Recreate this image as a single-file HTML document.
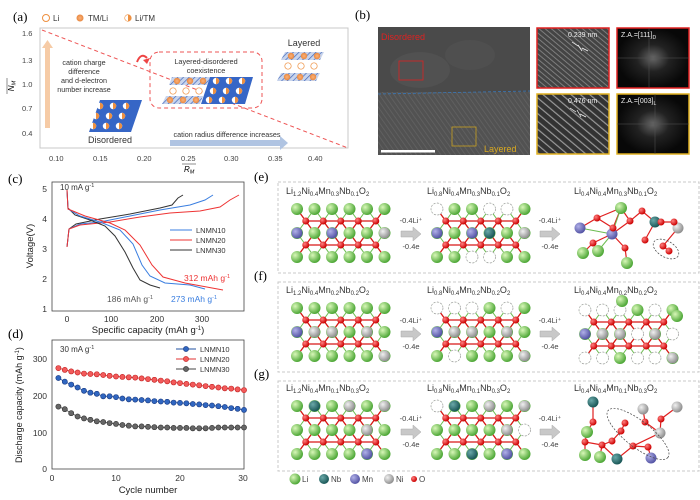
<!DOCTYPE html>
<html><head><meta charset="utf-8"><style>
html,body{margin:0;padding:0;background:#fff;}
svg{display:block;font-family:"Liberation Sans",sans-serif;}
</style></head><body>
<svg width="700" height="500" viewBox="0 0 700 500" xmlns="http://www.w3.org/2000/svg">
<defs>
<radialGradient id="gG" cx="35%" cy="35%" r="65%"><stop offset="0" stop-color="#d8f7b8"/><stop offset="1" stop-color="#4fa838"/></radialGradient>
<radialGradient id="gR" cx="35%" cy="35%" r="65%"><stop offset="0" stop-color="#ff8080"/><stop offset="1" stop-color="#cc0000"/></radialGradient>
<radialGradient id="gP" cx="35%" cy="35%" r="65%"><stop offset="0" stop-color="#b0b0e8"/><stop offset="1" stop-color="#5555a5"/></radialGradient>
<radialGradient id="gN" cx="35%" cy="35%" r="65%"><stop offset="0" stop-color="#f0f0f0"/><stop offset="1" stop-color="#909090"/></radialGradient>
<radialGradient id="gT" cx="35%" cy="35%" r="65%"><stop offset="0" stop-color="#6aa8a8"/><stop offset="1" stop-color="#1b5858"/></radialGradient>
<radialGradient id="oc" cx="50%" cy="50%" r="50%"><stop offset="0" stop-color="#fbb27a"/><stop offset="1" stop-color="#e88840"/></radialGradient>
<pattern id="hatch" width="4" height="4" patternUnits="userSpaceOnUse" patternTransform="rotate(45)"><rect width="4" height="4" fill="#c8d4ec"/><line x1="0" y1="0" x2="0" y2="4" stroke="#3a62b8" stroke-width="1.3"/></pattern>
<pattern id="stripes" width="4" height="4" patternUnits="userSpaceOnUse" patternTransform="rotate(-35)"><rect width="4" height="4" fill="#555"/><line x1="0" y1="0" x2="0" y2="4" stroke="#6e6e6e" stroke-width="1.5"/></pattern>
<pattern id="stripes2" width="4" height="4" patternUnits="userSpaceOnUse" patternTransform="rotate(-50)"><rect width="4" height="4" fill="#444"/><line x1="0" y1="0" x2="0" y2="4" stroke="#8a8a8a" stroke-width="1.6"/></pattern>
<pattern id="stripes3" width="6" height="6" patternUnits="userSpaceOnUse" patternTransform="rotate(-50)"><rect width="6" height="6" fill="#333"/><line x1="0" y1="0" x2="0" y2="6" stroke="#999" stroke-width="2.4"/></pattern>
<radialGradient id="fft"><stop offset="0" stop-color="#666"/><stop offset="0.45" stop-color="#222"/><stop offset="1" stop-color="#080808"/></radialGradient>
<g id="hc"><circle r="3.2" fill="#fff"/><path d="M0,-3.2A3.2,3.2 0 0 1 0,3.2Z" fill="#ee9040"/></g>
<marker id="mR" markerWidth="6" markerHeight="6" refX="3" refY="3" markerUnits="userSpaceOnUse"><circle cx="3" cy="3" r="2.6" fill="#f25a5a" stroke="#c02020" stroke-width="0.6"/></marker>
<marker id="mB" markerWidth="6" markerHeight="6" refX="3" refY="3" markerUnits="userSpaceOnUse"><circle cx="3" cy="3" r="2.6" fill="#3066c0" stroke="#1a3a80" stroke-width="0.6"/></marker>
<marker id="mK" markerWidth="6" markerHeight="6" refX="3" refY="3" markerUnits="userSpaceOnUse"><circle cx="3" cy="3" r="2.6" fill="#666" stroke="#333" stroke-width="0.6"/></marker>
<g id="lat">
 <path d="M0 0L17.5 24L35 0L52.5 24L70 0L87.5 24M0 24L17.5 0L35 24L52.5 0L70 24L87.5 0M0 24L17.5 48L35 24L52.5 48L70 24L87.5 48M0 48L17.5 24L35 48L52.5 24L70 48L87.5 24" stroke="#6cbc50" stroke-width="1" fill="none"/>
 <path d="M8.75 12L26.25 36L43.75 12L61.25 36L78.75 12M8.75 36L26.25 12L43.75 36L61.25 12L78.75 36M8.75 12H78.75M8.75 36H78.75M8.75 12L0 0M78.75 12L87.5 0M8.75 36L0 48M78.75 36L87.5 48" stroke="#d81818" stroke-width="1.3" fill="none"/>
 <g fill="url(#gG)">
 <circle cx="0" cy="0" r="6"/><circle cx="17.5" cy="0" r="6"/><circle cx="35" cy="0" r="6"/><circle cx="52.5" cy="0" r="6"/><circle cx="70" cy="0" r="6"/><circle cx="87.5" cy="0" r="6"/>
 <circle cx="0" cy="24" r="6"/><circle cx="17.5" cy="24" r="6"/><circle cx="35" cy="24" r="6"/><circle cx="52.5" cy="24" r="6"/><circle cx="70" cy="24" r="6"/><circle cx="87.5" cy="24" r="6"/>
 <circle cx="0" cy="48" r="6"/><circle cx="17.5" cy="48" r="6"/><circle cx="35" cy="48" r="6"/><circle cx="52.5" cy="48" r="6"/><circle cx="70" cy="48" r="6"/><circle cx="87.5" cy="48" r="6"/>
 </g>
 <g fill="url(#gR)">
 <circle cx="8.75" cy="12" r="3.5"/><circle cx="26.25" cy="12" r="3.5"/><circle cx="43.75" cy="12" r="3.5"/><circle cx="61.25" cy="12" r="3.5"/><circle cx="78.75" cy="12" r="3.5"/>
 <circle cx="8.75" cy="36" r="3.5"/><circle cx="26.25" cy="36" r="3.5"/><circle cx="43.75" cy="36" r="3.5"/><circle cx="61.25" cy="36" r="3.5"/><circle cx="78.75" cy="36" r="3.5"/>
 </g>
</g>
<g id="arr">
 <polygon points="0,-3 12,-3 12,-7 20,0 12,7 12,3 0,3" fill="#c8c8c8" stroke="#aaa" stroke-width="0.5"/>
 <text x="10" y="-11" font-size="7.5" fill="#444" text-anchor="middle">-0.4Li⁺</text>
 <text x="10" y="15" font-size="7.5" fill="#444" text-anchor="middle">-0.4e</text>
</g>
</defs>

<!-- (a) -->
<text x="13" y="21" font-size="13" font-family="Liberation Serif,serif">(a)</text>
<circle cx="46" cy="18" r="3.5" fill="#fff" stroke="#ee9040"/>
<text x="53" y="21" font-size="8" fill="#333">Li</text>
<circle cx="80" cy="18" r="3.5" fill="url(#oc)"/>
<text x="88" y="21" font-size="8" fill="#333">TM/Li</text>
<use href="#hc" x="128" y="18"/><circle cx="128" cy="18" r="3.3" fill="none" stroke="#ee9040" stroke-width="0.6"/>
<text x="135" y="21" font-size="8" fill="#333">Li/TM</text>

<rect x="40" y="28" width="308" height="120" fill="none" stroke="#c8c8c8" stroke-width="1"/>
<g font-size="7.5" fill="#444">
<text x="22" y="36">1.6</text><text x="22" y="63">1.3</text><text x="22" y="87">1.0</text><text x="22" y="111">0.7</text><text x="22" y="136">0.4</text>
<text x="49" y="161">0.10</text><text x="93" y="161">0.15</text><text x="137" y="161">0.20</text><text x="181" y="161">0.25</text><text x="224" y="161">0.30</text><text x="268" y="161">0.35</text><text x="308" y="161">0.40</text>
</g>
<text x="14" y="86" font-size="8" font-style="italic" transform="rotate(-90 14 86)" text-anchor="middle">N<tspan font-size="5.5" dy="1.5">M</tspan></text>
<line x1="7" y1="78" x2="7" y2="94" stroke="#444" stroke-width="0.6"/>
<text x="184" y="172" font-size="8" font-style="italic">R<tspan font-size="5.5" dy="1.5">M</tspan></text>
<line x1="182" y1="164" x2="196" y2="164" stroke="#444" stroke-width="0.6"/>
<line x1="42" y1="30" x2="348" y2="148" stroke="#ee5555" stroke-width="1" stroke-dasharray="4,3"/>
<rect x="45" y="46" width="5" height="82" fill="#f6cba6"/>
<polygon points="42,48 47.5,40 53,48" fill="#f6cba6"/>
<g font-size="7.2" fill="#333" text-anchor="middle">
<text x="84" y="65">cation charge</text><text x="84" y="74">difference</text><text x="84" y="83">and d-electron</text><text x="84" y="92">number increase</text>
</g>
<polygon points="100,100 142,100 131,132 89,132" fill="#3666c6"/>
<use href="#hc" x="100" y="106"/><use href="#hc" x="113" y="106"/><use href="#hc" x="126" y="106"/>
<use href="#hc" x="96" y="116"/><use href="#hc" x="109" y="116"/><use href="#hc" x="122" y="116"/>
<use href="#hc" x="93" y="126"/><use href="#hc" x="106" y="126"/><use href="#hc" x="119" y="126"/>
<text x="110" y="143" font-size="9" fill="#333" text-anchor="middle">Disordered</text>
<rect x="170" y="140" width="110" height="6" fill="#b0c4e2"/>
<polygon points="280,136 288,143 280,150" fill="#b0c4e2"/>
<text x="227" y="137" font-size="7.2" fill="#333" text-anchor="middle">cation radius difference increases</text>
<rect x="150" y="52" width="112" height="56" rx="9" fill="none" stroke="#ee5555" stroke-dasharray="4,3"/>
<path d="M137,62 Q141,52 147,58" stroke="#ee4444" stroke-width="2" fill="none"/>
<polygon points="143,60 150,58 147,64" fill="#ee4444"/>
<text x="206" y="64" font-size="7.3" fill="#333" text-anchor="middle">Layered-disordered</text>
<text x="206" y="73" font-size="7.3" fill="#333" text-anchor="middle">coexistence</text>
<polygon points="172,77 210,77 207,85 169,85" fill="url(#hatch)"/>
<circle cx="177" cy="81" r="3.2" fill="url(#oc)"/><circle cx="190" cy="81" r="3.2" fill="url(#oc)"/><circle cx="203" cy="81" r="3.2" fill="url(#oc)"/>
<circle cx="173" cy="91" r="3.2" fill="#fff" stroke="#ee9040" stroke-width="0.7"/><circle cx="186" cy="91" r="3.2" fill="#fff" stroke="#ee9040" stroke-width="0.7"/><circle cx="199" cy="91" r="3.2" fill="#fff" stroke="#ee9040" stroke-width="0.7"/>
<polygon points="166,96 203,96 200,104 162,104" fill="url(#hatch)"/>
<circle cx="170" cy="100" r="3.2" fill="url(#oc)"/><circle cx="183" cy="100" r="3.2" fill="url(#oc)"/><circle cx="196" cy="100" r="3.2" fill="url(#oc)"/>
<polygon points="210,77 253,77 245,104 201,104" fill="#3666c6"/>
<use href="#hc" x="216" y="81"/><use href="#hc" x="229" y="81"/><use href="#hc" x="242" y="81"/>
<use href="#hc" x="213" y="91"/><use href="#hc" x="226" y="91"/><use href="#hc" x="239" y="91"/>
<use href="#hc" x="209" y="100"/><use href="#hc" x="222" y="100"/><use href="#hc" x="235" y="100"/>
<text x="304" y="46" font-size="9" fill="#333" text-anchor="middle">Layered</text>
<polygon points="285,52 324,52 320,60 281,60" fill="url(#hatch)"/>
<circle cx="291" cy="56" r="3.2" fill="url(#oc)"/><circle cx="304" cy="56" r="3.2" fill="url(#oc)"/><circle cx="317" cy="56" r="3.2" fill="url(#oc)"/>
<circle cx="288" cy="66" r="3.2" fill="#fff" stroke="#ee9040" stroke-width="0.7"/><circle cx="301" cy="66" r="3.2" fill="#fff" stroke="#ee9040" stroke-width="0.7"/><circle cx="314" cy="66" r="3.2" fill="#fff" stroke="#ee9040" stroke-width="0.7"/>
<polygon points="281,73 320,73 316,81 277,81" fill="url(#hatch)"/>
<circle cx="287" cy="77" r="3.2" fill="url(#oc)"/><circle cx="300" cy="77" r="3.2" fill="url(#oc)"/><circle cx="313" cy="77" r="3.2" fill="url(#oc)"/>

<!-- (b) -->
<text x="355" y="19" font-size="13" font-family="Liberation Serif,serif">(b)</text>
<rect x="378" y="27" width="152" height="128" fill="#4a4a4a"/>
<rect x="378" y="92" width="152" height="63" fill="url(#stripes)" opacity="0.7"/>
<ellipse cx="420" cy="70" rx="30" ry="18" fill="#777" opacity="0.15"/>
<ellipse cx="470" cy="55" rx="25" ry="15" fill="#777" opacity="0.12"/>
<text x="381" y="40" font-size="9" fill="#dd2222">Disordered</text>
<rect x="399" y="61" width="24" height="19" fill="none" stroke="#dd2222" stroke-width="0.8"/>
<line x1="378" y1="94" x2="530" y2="91" stroke="#3a78b8" stroke-width="0.8" stroke-dasharray="3,2"/>
<rect x="452" y="127" width="24" height="19" fill="none" stroke="#c8a020" stroke-width="0.8"/>
<text x="484" y="152" font-size="9" fill="#d8a820">Layered</text>
<rect x="381" y="150" width="54" height="2.5" fill="#fff"/>
<rect x="537" y="28" width="72" height="60" fill="url(#stripes2)" stroke="#e02020" stroke-width="1.5"/>
<rect x="617" y="28" width="72" height="60" fill="url(#fft)" stroke="#e02020" stroke-width="1.5"/>
<rect x="537" y="94" width="72" height="60" fill="url(#stripes3)" stroke="#e0b020" stroke-width="1.5"/>
<rect x="617" y="94" width="72" height="60" fill="url(#fft)" stroke="#e0b020" stroke-width="1.5"/>
<g stroke="#555" stroke-width="0.5"><line x1="617" y1="58" x2="689" y2="58"/><line x1="649" y1="28" x2="649" y2="88"/><line x1="617" y1="124" x2="689" y2="124"/><line x1="655" y1="94" x2="655" y2="154"/></g>
<text x="568" y="37" font-size="7" fill="#eee">0.239 nm</text>
<text x="621" y="37" font-size="7" fill="#eee">Z.A.=[111]<tspan font-size="5" dy="2">D</tspan></text>
<text x="568" y="103" font-size="7" fill="#eee">0.476 nm</text>
<text x="621" y="103" font-size="7" fill="#eee">Z.A.=[003]<tspan font-size="5" dy="2">L</tspan></text>
<g stroke="#fff" stroke-width="0.7"><line x1="572" y1="42" x2="578" y2="46"/><line x1="582" y1="48" x2="588" y2="51"/><line x1="578" y1="45" x2="582" y2="51"/><line x1="570" y1="108" x2="576" y2="112"/><line x1="580" y1="114" x2="586" y2="117"/><line x1="577" y1="110" x2="581" y2="117"/></g>

<!-- (c) -->
<text x="8" y="183" font-size="13" font-family="Liberation Serif,serif">(c)</text>
<rect x="52" y="182" width="192" height="129" fill="none" stroke="#444" stroke-width="0.8"/>
<g font-size="8.5" fill="#333" text-anchor="end">
<text x="47" y="192">5</text><text x="47" y="222">4</text><text x="47" y="252">3</text><text x="47" y="282">2</text><text x="47" y="312">1</text></g>
<g font-size="8.5" fill="#333" text-anchor="middle">
<text x="67" y="322">0</text><text x="111" y="322">100</text><text x="157" y="322">200</text><text x="202" y="322">300</text></g>
<text x="148" y="333" font-size="9.5" fill="#222" text-anchor="middle">Specific capacity (mAh g<tspan font-size="6" dy="-3">-1</tspan><tspan dy="3">)</tspan></text>
<text x="33" y="246" font-size="9.5" fill="#222" text-anchor="middle" transform="rotate(-90 33 246)">Voltage(V)</text>
<text x="60" y="190" font-size="8" fill="#333">10 mA g<tspan font-size="5.5" dy="-3">-1</tspan></text>
<g fill="none" stroke-width="1">
<polyline stroke="#333" points="67,247 69,229 76,224 100,219 130,214 160,208 172,205 178,198 183,195"/>
<polyline stroke="#3a7ee0" points="67,247 69,229 80,224 100,222 130,216 160,210 190,205 205,200 213,195"/>
<polyline stroke="#ee3333" points="67,247 69,229 80,225 110,222 140,217 170,213 200,211 220,207 230,200 239,195"/>
<polyline stroke="#333" points="67,190 68,208 75,215 90,220 105,226 115,236 125,252 133,268 140,280 150,285 160,288"/>
<polyline stroke="#3a7ee0" points="67,190 68,209 80,216 100,222 120,230 133,244 142,265 150,276 165,283 190,285 205,289"/>
<polyline stroke="#ee3333" points="67,190 68,209 85,216 110,223 125,230 140,245 152,265 163,277 185,283 223,290"/>
</g>
<line x1="170" y1="230" x2="192" y2="230" stroke="#3a7ee0"/><text x="196" y="233" font-size="7.5" fill="#333">LNMN10</text>
<line x1="170" y1="240" x2="192" y2="240" stroke="#ee3333"/><text x="196" y="243" font-size="7.5" fill="#333">LNMN20</text>
<line x1="170" y1="250" x2="192" y2="250" stroke="#333"/><text x="196" y="253" font-size="7.5" fill="#333">LNMN30</text>
<text x="184" y="281" font-size="8.5" fill="#ee3333">312 mAh g<tspan font-size="5.5" dy="-3">-1</tspan></text>
<text x="107" y="302" font-size="8.5" fill="#555">186 mAh g<tspan font-size="5.5" dy="-3">-1</tspan></text>
<text x="171" y="302" font-size="8.5" fill="#3a7ee0">273 mAh g<tspan font-size="5.5" dy="-3">-1</tspan></text>

<!-- (d) -->
<text x="8" y="338" font-size="13" font-family="Liberation Serif,serif">(d)</text>
<rect x="52" y="340" width="192" height="129" fill="none" stroke="#444" stroke-width="0.8"/>
<g font-size="8.5" fill="#333" text-anchor="end">
<text x="47" y="362">300</text><text x="47" y="399">200</text><text x="47" y="436">100</text><text x="47" y="472">0</text></g>
<g font-size="8.5" fill="#333" text-anchor="middle">
<text x="52" y="481">0</text><text x="116" y="481">10</text><text x="180" y="481">20</text><text x="243" y="481">30</text></g>
<text x="148" y="493" font-size="9.5" fill="#222" text-anchor="middle">Cycle number</text>
<text x="22" y="405" font-size="9" fill="#222" text-anchor="middle" transform="rotate(-90 22 405)">Discharge capacity (mAh g<tspan font-size="6" dy="-3">-1</tspan><tspan dy="3">)</tspan></text>
<text x="60" y="352" font-size="8" fill="#333">30 mA g<tspan font-size="5.5" dy="-3">-1</tspan></text>
<g fill="none" stroke-width="0.8">
<polyline stroke="#e03030" marker-start="url(#mR)" marker-mid="url(#mR)" marker-end="url(#mR)" points="58.4,368.1 64.8,369.9 71.2,371.4 77.6,372.5 84,373.6 90.4,374 96.8,374.3 103.2,375 109.6,375.8 116,376.5 122.4,376.9 128.8,377.3 135.2,377.6 141.6,378.4 148,379.1 154.4,379.8 160.8,380.6 167.2,381.3 173.6,382.4 180,383.1 186.4,383.9 192.8,384.6 199.2,385.3 205.6,386.1 212,386.8 218.4,387.5 224.8,388.3 231.2,388.6 237.6,389.4 244,390.1"/>
<polyline stroke="#2050a0" marker-start="url(#mB)" marker-mid="url(#mB)" marker-end="url(#mB)" points="58.4,378 64.8,381.7 71.2,384.6 77.6,387.5 84,390.8 90.4,392.7 96.8,393.8 103.2,396.3 109.6,396.3 116,397.1 122.4,398.5 128.8,399.3 135.2,399.6 141.6,400 148,400.4 154.4,401.1 160.8,401.5 167.2,401.8 173.6,402.6 180,402.9 186.4,403.3 192.8,404 199.2,404.4 205.6,405.1 212,405.5 218.4,406.2 224.8,407 231.2,408.1 237.6,408.8 244,409.9"/>
<polyline stroke="#444" marker-start="url(#mK)" marker-mid="url(#mK)" marker-end="url(#mK)" points="58.4,406.6 64.8,409.2 71.2,413.2 77.6,416.5 84,418.4 90.4,419.8 96.8,421.3 103.2,422 109.6,423.1 116,423.9 122.4,425 128.8,425.7 135.2,426.4 141.6,426.4 148,426.8 154.4,427.2 160.8,427.5 167.2,427.5 173.6,427.9 180,427.9 186.4,427.9 192.8,428.3 199.2,428.3 205.6,428.3 212,427.9 218.4,427.5 224.8,427.5 231.2,427.5 237.6,427.5 244,427.5"/>
</g>
<polyline points="176,349 186,349 196,349" stroke="#2050a0" marker-mid="url(#mB)" fill="none"/><text x="200" y="352" font-size="7.5" fill="#333">LNMN10</text>
<polyline points="176,359 186,359 196,359" stroke="#e03030" marker-mid="url(#mR)" fill="none"/><text x="200" y="362" font-size="7.5" fill="#333">LNMN20</text>
<polyline points="176,369 186,369 196,369" stroke="#444" marker-mid="url(#mK)" fill="none"/><text x="200" y="372" font-size="7.5" fill="#333">LNMN30</text>

<!-- (e)(f)(g) -->
<text x="254" y="181" font-size="13" font-family="Liberation Serif,serif">(e)</text>
<text x="254" y="280" font-size="13" font-family="Liberation Serif,serif">(f)</text>
<text x="254" y="378" font-size="13" font-family="Liberation Serif,serif">(g)</text>
<g fill="none" stroke="#c8c8c8" stroke-dasharray="3,2">
<rect x="278" y="182" width="421" height="91"/>
<rect x="278" y="282" width="421" height="90"/>
<rect x="278" y="381" width="421" height="90"/>
</g>
<g font-size="9" fill="#333">
<text x="286" y="194">Li<tspan font-size="6" dy="2">1.2</tspan><tspan dy="-2">Ni</tspan><tspan font-size="6" dy="2">0.4</tspan><tspan dy="-2">Mn</tspan><tspan font-size="6" dy="2">0.3</tspan><tspan dy="-2">Nb</tspan><tspan font-size="6" dy="2">0.1</tspan><tspan dy="-2">O</tspan><tspan font-size="6" dy="2">2</tspan></text>
<text x="427" y="194">Li<tspan font-size="6" dy="2">0.8</tspan><tspan dy="-2">Ni</tspan><tspan font-size="6" dy="2">0.4</tspan><tspan dy="-2">Mn</tspan><tspan font-size="6" dy="2">0.3</tspan><tspan dy="-2">Nb</tspan><tspan font-size="6" dy="2">0.1</tspan><tspan dy="-2">O</tspan><tspan font-size="6" dy="2">2</tspan></text>
<text x="574" y="194">Li<tspan font-size="6" dy="2">0.4</tspan><tspan dy="-2">Ni</tspan><tspan font-size="6" dy="2">0.4</tspan><tspan dy="-2">Mn</tspan><tspan font-size="6" dy="2">0.3</tspan><tspan dy="-2">Nb</tspan><tspan font-size="6" dy="2">0.1</tspan><tspan dy="-2">O</tspan><tspan font-size="6" dy="2">2</tspan></text>
<text x="286" y="293">Li<tspan font-size="6" dy="2">1.2</tspan><tspan dy="-2">Ni</tspan><tspan font-size="6" dy="2">0.4</tspan><tspan dy="-2">Mn</tspan><tspan font-size="6" dy="2">0.2</tspan><tspan dy="-2">Nb</tspan><tspan font-size="6" dy="2">0.2</tspan><tspan dy="-2">O</tspan><tspan font-size="6" dy="2">2</tspan></text>
<text x="427" y="293">Li<tspan font-size="6" dy="2">0.8</tspan><tspan dy="-2">Ni</tspan><tspan font-size="6" dy="2">0.4</tspan><tspan dy="-2">Mn</tspan><tspan font-size="6" dy="2">0.2</tspan><tspan dy="-2">Nb</tspan><tspan font-size="6" dy="2">0.2</tspan><tspan dy="-2">O</tspan><tspan font-size="6" dy="2">2</tspan></text>
<text x="574" y="293">Li<tspan font-size="6" dy="2">0.4</tspan><tspan dy="-2">Ni</tspan><tspan font-size="6" dy="2">0.4</tspan><tspan dy="-2">Mn</tspan><tspan font-size="6" dy="2">0.2</tspan><tspan dy="-2">Nb</tspan><tspan font-size="6" dy="2">0.2</tspan><tspan dy="-2">O</tspan><tspan font-size="6" dy="2">2</tspan></text>
<text x="286" y="391">Li<tspan font-size="6" dy="2">1.2</tspan><tspan dy="-2">Ni</tspan><tspan font-size="6" dy="2">0.4</tspan><tspan dy="-2">Mn</tspan><tspan font-size="6" dy="2">0.1</tspan><tspan dy="-2">Nb</tspan><tspan font-size="6" dy="2">0.3</tspan><tspan dy="-2">O</tspan><tspan font-size="6" dy="2">2</tspan></text>
<text x="427" y="391">Li<tspan font-size="6" dy="2">0.8</tspan><tspan dy="-2">Ni</tspan><tspan font-size="6" dy="2">0.4</tspan><tspan dy="-2">Mn</tspan><tspan font-size="6" dy="2">0.1</tspan><tspan dy="-2">Nb</tspan><tspan font-size="6" dy="2">0.3</tspan><tspan dy="-2">O</tspan><tspan font-size="6" dy="2">2</tspan></text>
<text x="574" y="391">Li<tspan font-size="6" dy="2">0.4</tspan><tspan dy="-2">Ni</tspan><tspan font-size="6" dy="2">0.4</tspan><tspan dy="-2">Mn</tspan><tspan font-size="6" dy="2">0.1</tspan><tspan dy="-2">Nb</tspan><tspan font-size="6" dy="2">0.3</tspan><tspan dy="-2">O</tspan><tspan font-size="6" dy="2">2</tspan></text>
</g>

<use href="#lat" x="297" y="209"/>
<circle cx="297" cy="233" r="5.5" fill="url(#gP)"/><circle cx="332" cy="233" r="5.5" fill="url(#gP)"/><circle cx="384.5" cy="233" r="5.5" fill="url(#gN)"/>
<use href="#lat" x="437" y="209"/>
<circle cx="437" cy="233" r="5.5" fill="url(#gP)"/><circle cx="472" cy="233" r="5.5" fill="url(#gP)"/><circle cx="489.5" cy="233" r="5.5" fill="url(#gT)"/><circle cx="524.5" cy="233" r="5.5" fill="url(#gN)"/>
<g fill="#fff" stroke="#999" stroke-dasharray="2,1.5" stroke-width="0.7"><circle cx="437" cy="209" r="6"/><circle cx="489.5" cy="209" r="6"/><circle cx="507" cy="209" r="6"/><circle cx="472" cy="257" r="6"/><circle cx="489.5" cy="257" r="6"/></g>
<use href="#arr" x="401" y="234"/><use href="#arr" x="540" y="234"/>

<use href="#lat" x="297" y="308"/>
<circle cx="297" cy="332" r="5.5" fill="url(#gP)"/><circle cx="314.5" cy="332" r="5.5" fill="url(#gN)"/><circle cx="332" cy="332" r="5.5" fill="url(#gN)"/><circle cx="367" cy="332" r="5.5" fill="url(#gN)"/><circle cx="384.5" cy="356" r="5.5" fill="url(#gN)"/>
<use href="#lat" x="437" y="308"/>
<circle cx="437" cy="332" r="5.5" fill="url(#gP)"/><circle cx="454.5" cy="332" r="5.5" fill="url(#gN)"/><circle cx="472" cy="332" r="5.5" fill="url(#gN)"/><circle cx="507" cy="332" r="5.5" fill="url(#gN)"/><circle cx="524.5" cy="356" r="5.5" fill="url(#gN)"/>
<g fill="#fff" stroke="#999" stroke-dasharray="2,1.5" stroke-width="0.7"><circle cx="437" cy="308" r="6"/><circle cx="454.5" cy="308" r="6"/><circle cx="472" cy="308" r="6"/><circle cx="507" cy="308" r="6"/><circle cx="454.5" cy="356" r="6"/></g>
<use href="#arr" x="401" y="334"/><use href="#arr" x="540" y="334"/>
<use href="#lat" x="585" y="310"/>
<circle cx="585" cy="334" r="5.5" fill="url(#gP)"/><circle cx="602.5" cy="334" r="5.5" fill="url(#gN)"/><circle cx="620" cy="334" r="5.5" fill="url(#gN)"/><circle cx="672.5" cy="358" r="5.5" fill="url(#gN)"/><circle cx="655" cy="334" r="5.5" fill="url(#gN)"/>
<g fill="#fff" stroke="#999" stroke-dasharray="2,1.5" stroke-width="0.7"><circle cx="585" cy="310" r="6"/><circle cx="602.5" cy="310" r="6"/><circle cx="620" cy="310" r="6"/><circle cx="655" cy="310" r="6"/><circle cx="585" cy="358" r="6"/><circle cx="602.5" cy="358" r="6"/><circle cx="637.5" cy="334" r="6"/><circle cx="655" cy="358" r="6"/><circle cx="672.5" cy="334" r="6"/><circle cx="637.5" cy="358" r="6"/></g>
<circle cx="622" cy="301" r="6" fill="url(#gG)"/><circle cx="677" cy="316" r="6" fill="url(#gG)"/>

<use href="#lat" x="297" y="406"/>
<circle cx="314.5" cy="406" r="5.5" fill="url(#gT)"/><circle cx="349.5" cy="406" r="5.5" fill="url(#gN)"/><circle cx="384.5" cy="406" r="5.5" fill="url(#gN)"/><circle cx="367" cy="430" r="5.5" fill="url(#gN)"/><circle cx="367" cy="454" r="5.5" fill="url(#gP)"/>
<use href="#lat" x="437" y="406"/>
<circle cx="454.5" cy="406" r="5.5" fill="url(#gT)"/><circle cx="489.5" cy="406" r="5.5" fill="url(#gN)"/><circle cx="524.5" cy="406" r="5.5" fill="url(#gN)"/><circle cx="507" cy="430" r="5.5" fill="url(#gN)"/><circle cx="507" cy="454" r="5.5" fill="url(#gP)"/><circle cx="472" cy="454" r="5.5" fill="url(#gT)"/>
<g fill="#fff" stroke="#999" stroke-dasharray="2,1.5" stroke-width="0.7"><circle cx="437" cy="406" r="6"/><circle cx="524.5" cy="430" r="6"/></g>
<use href="#arr" x="401" y="432"/><use href="#arr" x="540" y="432"/>

<!-- (e) right -->
<g stroke="#e02020" stroke-width="1.2" fill="none">
<path d="M597,218 L621,208 L613,228 L597,218 L580,228 M621,208 L630,221 L642,211 L655,222 L661,222 L674,222 L678,228 L663,246 L669,251 M613,228 L612,234 L593,243 L583,253 M612,234 L625,248 L627,263 M630,221 L612,234 M655,222 L645,240"/>
</g>
<g stroke="#6cbc50" stroke-width="1"><line x1="621" y1="208" x2="612" y2="234"/><line x1="598" y1="251" x2="612" y2="234"/><line x1="580" y1="228" x2="612" y2="234"/></g>
<circle cx="621" cy="208" r="6" fill="url(#gG)"/><circle cx="583" cy="253" r="6" fill="url(#gG)"/><circle cx="598" cy="251" r="6" fill="url(#gG)"/><circle cx="627" cy="263" r="6" fill="url(#gG)"/>
<circle cx="580" cy="228" r="5.5" fill="url(#gP)"/><circle cx="612" cy="234" r="5.5" fill="url(#gP)"/><circle cx="655" cy="222" r="5.5" fill="url(#gT)"/><circle cx="678" cy="228" r="5.5" fill="url(#gN)"/>
<g fill="url(#gR)"><circle cx="597" cy="218" r="3.5"/><circle cx="613" cy="228" r="3.5"/><circle cx="630" cy="221" r="3.5"/><circle cx="642" cy="211" r="3.5"/><circle cx="593" cy="243" r="3.5"/><circle cx="625" cy="248" r="3.5"/><circle cx="645" cy="240" r="3.5"/><circle cx="661" cy="222" r="3.5"/><circle cx="674" cy="222" r="3.5"/><circle cx="663" cy="246" r="3.5"/><circle cx="669" cy="251" r="3.5"/></g>
<ellipse cx="666" cy="249" rx="14" ry="8" transform="rotate(30 666 249)" fill="none" stroke="#444" stroke-width="0.7" stroke-dasharray="2,1.5"/>

<!-- (g) right -->
<g stroke="#e02020" stroke-width="1.2" fill="none"><path d="M593,402 L593,422 L587,432 L585,442 L602,445 L612,441 L621,431 L625,423 M602,445 L617,459 L633,446 L648,447 L651,458 M633,446 L660,433 L645,422 L643,409 M660,433 L661,419 L677,407 M585,442 L585,455 M602,445 L600,457"/></g>
<circle cx="593" cy="402" r="5.5" fill="url(#gT)"/><circle cx="587" cy="432" r="6" fill="url(#gG)"/><circle cx="585" cy="455" r="6" fill="url(#gG)"/><circle cx="600" cy="457" r="6" fill="url(#gG)"/>
<circle cx="617" cy="459" r="5.5" fill="url(#gT)"/><circle cx="651" cy="458" r="5.5" fill="url(#gP)"/><circle cx="660" cy="433" r="5.5" fill="url(#gN)"/><circle cx="643" cy="409" r="5.5" fill="url(#gN)"/><circle cx="677" cy="407" r="5.5" fill="url(#gN)"/>
<g fill="url(#gR)"><circle cx="593" cy="422" r="3.5"/><circle cx="585" cy="442" r="3.5"/><circle cx="602" cy="445" r="3.5"/><circle cx="612" cy="441" r="3.5"/><circle cx="621" cy="431" r="3.5"/><circle cx="625" cy="423" r="3.5"/><circle cx="633" cy="446" r="3.5"/><circle cx="648" cy="447" r="3.5"/><circle cx="645" cy="422" r="3.5"/><circle cx="661" cy="419" r="3.5"/></g>
<ellipse cx="638" cy="434" rx="38" ry="13" transform="rotate(38 638 434)" fill="none" stroke="#444" stroke-width="0.7" stroke-dasharray="2,1.5"/>

<!-- legend -->
<circle cx="295" cy="479" r="5.5" fill="url(#gG)"/><text x="302" y="482" font-size="8" fill="#444">Li</text>
<circle cx="324" cy="479" r="5" fill="url(#gT)"/><text x="331" y="482" font-size="8" fill="#444">Nb</text>
<circle cx="355" cy="479" r="5" fill="url(#gP)"/><text x="362" y="482" font-size="8" fill="#444">Mn</text>
<circle cx="389" cy="479" r="5" fill="url(#gN)"/><text x="396" y="482" font-size="8" fill="#444">Ni</text>
<circle cx="414" cy="479" r="3" fill="url(#gR)"/><text x="419" y="482" font-size="8" fill="#444">O</text>
</svg>
</body></html>
